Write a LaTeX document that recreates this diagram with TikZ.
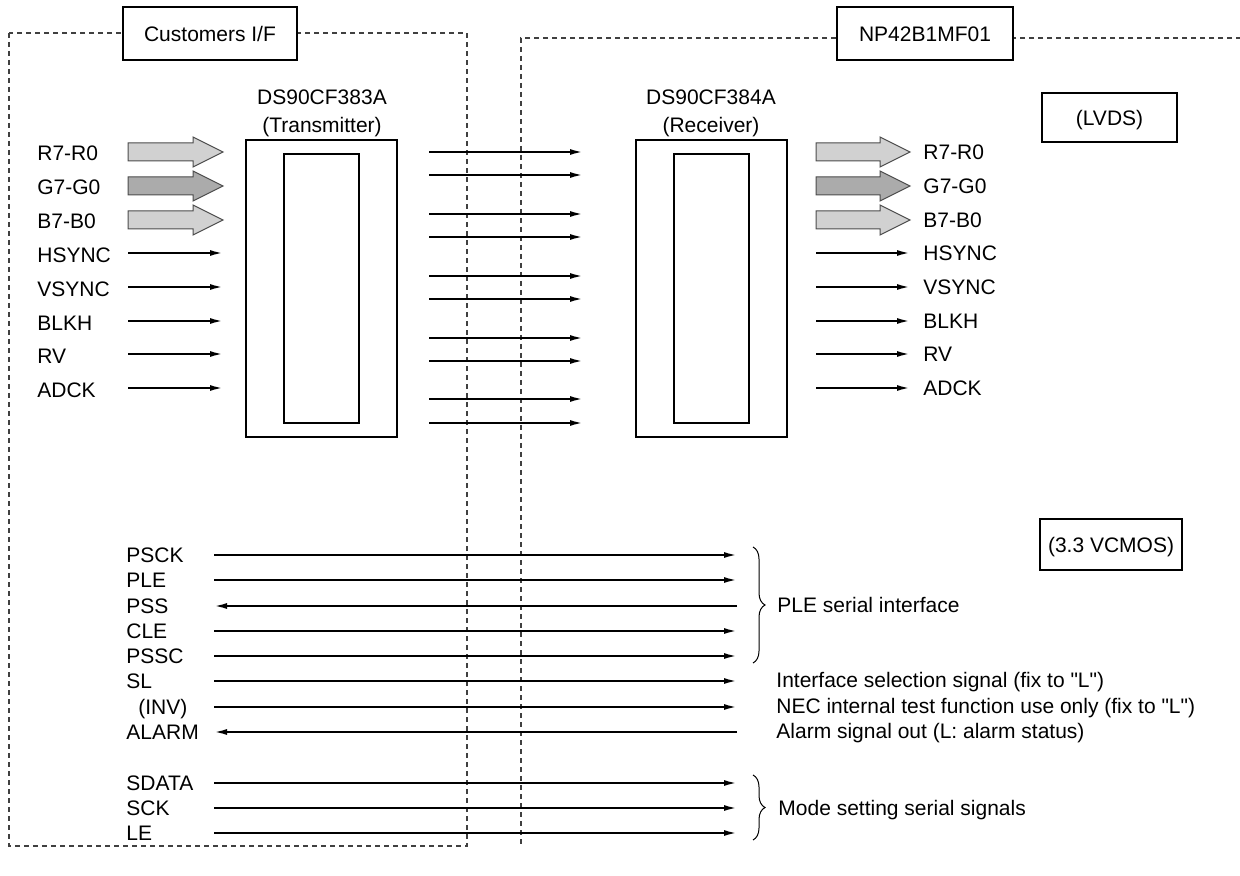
\documentclass[tikz,border=0pt]{standalone}
\usepackage{fontspec}
\setmainfont{Liberation Sans}
\newfontfamily\plainsans{Liberation Sans}
\usetikzlibrary{arrows.meta,decorations.pathreplacing}
\definecolor{fatlight}{gray}{0.82}
\definecolor{fatdark}{gray}{0.67}
\begin{document}
\begin{tikzpicture}[x=0.5pt,y=-0.5pt,
  every node/.style={font=\plainsans\fontsize{10.5pt}{12pt}\selectfont, inner sep=0pt},
  lbl/.style={anchor=west, text height=7.6pt, text depth=0pt},
  ctr/.style={text height=7.6pt, text depth=0pt},
  titlebox/.style={draw, line width=1.3pt, fill=white, text height=7.6pt, text depth=0pt},
  chip/.style={draw, line width=1.3pt},
  bnd/.style={draw=black!75, line width=0.6pt, dash pattern=on 2.5pt off 2pt},
  sig/.style={line width=1pt, -{Latex[length=6.5pt,width=3pt]}},
  fat/.style={draw=black!70, line width=0.5pt},
  brc/.style={decorate, decoration={brace, amplitude=6pt}, line width=0.5pt},
]
\useasboundingbox (0,0) rectangle (1240,876);

% boundaries
\draw[bnd] (9,33) rectangle (467,846);
\draw[bnd] (1250,38) -- (521,38) -- (521,846);
\node[titlebox, minimum width=87pt, minimum height=26.5pt] (cust) at (210,33.5) {Customers I/F};
\node[titlebox, minimum width=88pt, minimum height=26.5pt] (np) at (925,33.5) {NP42B1MF01};
\node[titlebox, minimum width=67.5pt, minimum height=24.5pt] (lvds) at (1109.5,117.5) {(LVDS)};
\node[titlebox, minimum width=71pt, minimum height=25.5pt] (cmos) at (1111,544.5) {(3.3 VCMOS)};

% chips
\node[chip, minimum width=75.5pt, minimum height=148.5pt] (tx) at (321.5,288.5) {};
\node[chip, minimum width=37.5pt, minimum height=134.5pt] (txi) at (321.5,288.5) {};
\node[chip, minimum width=75.5pt, minimum height=148.5pt] (rx) at (711.5,288.5) {};
\node[chip, minimum width=37.5pt, minimum height=134.5pt] (rxi) at (711.5,288.5) {};
\node[ctr] (txname) at (322,97) {DS90CF383A};
\node[ctr] (txrole) at (322,125) {(Transmitter)};
\node[ctr] (rxname) at (711,97) {DS90CF384A};
\node[ctr] (rxrole) at (711,125) {(Receiver)};

% LVDS pairs
\foreach \y [count=\i] in {152,175,214,237,276,299,338,361,399,423} {
  \coordinate (ls\i) at (429,\y);
  \coordinate (le\i) at (583,\y);
  \draw[sig] (ls\i) -- (le\i);
}

% bus arrows
\foreach \y/\t/\c [count=\i] in {152/R7-R0/fatlight, 186/G7-G0/fatdark, 220/B7-B0/fatlight} {
  \node[lbl] (busin\i) at (37,\y+1) {\t};
  \filldraw[fat, fill=\c] (128,\y-9) -- (193,\y-9) -- (193,\y-15) -- (223,\y) -- (193,\y+15) -- (193,\y+9) -- (128,\y+9) -- cycle;
  \node[lbl] (busout\i) at (923,\y) {\t};
  \filldraw[fat, fill=\c] (816,\y-9) -- (880,\y-9) -- (880,\y-15) -- (910,\y) -- (880,\y+15) -- (880,\y+9) -- (816,\y+9) -- cycle;
}

% single signals
\foreach \y/\t [count=\i] in {253/HSYNC, 287/VSYNC, 321/BLKH, 354/RV, 388/ADCK} {
  \node[lbl] (sin\i) at (37,\y+2) {\t};
  \coordinate (sa\i) at (128,\y);
  \coordinate (sb\i) at (223,\y);
  \draw[sig] (sa\i) -- (sb\i);
  \node[lbl] (sout\i) at (923,\y) {\t};
  \coordinate (sc\i) at (816,\y);
  \coordinate (sd\i) at (910,\y);
  \draw[sig] (sc\i) -- (sd\i);
}

% CMOS signals
\foreach \y/\x/\t/\s/\e [count=\i] in {555/126/PSCK/214/737, 580/126/PLE/214/737, 606/126/PSS/737/214, 631/126/CLE/214/737, 656/126/PSSC/214/737, 681/126/SL/214/737, 707/138/(INV)/214/737, 732/126/ALARM/737/214, 783/126/SDATA/214/737, 808/126/SCK/214/737, 833/126/LE/214/737} {
  \node[lbl] (cl\i) at (\x,\y) {\t};
  \coordinate (cs\i) at (\s,\y);
  \coordinate (ce\i) at (\e,\y);
  \draw[sig] (cs\i) -- (ce\i);
}

% braces and descriptions
\coordinate (b1t) at (753,547);
\coordinate (b1b) at (753,663);
\draw[brc] (b1t) -- (b1b);
\coordinate (b2t) at (753,775);
\coordinate (b2b) at (753,840);
\draw[brc] (b2t) -- (b2b);
\node[lbl] (ple) at (777,605) {PLE serial interface};
\node[lbl] (d1) at (776,680) {Interface selection signal (fix to "L")};
\node[lbl] (d2) at (776,706) {NEC internal test function use only (fix to "L")};
\node[lbl] (d3) at (776,731) {Alarm signal out (L: alarm status)};
\node[lbl] (mode) at (778,808) {Mode setting serial signals};
\end{tikzpicture}
\end{document}
